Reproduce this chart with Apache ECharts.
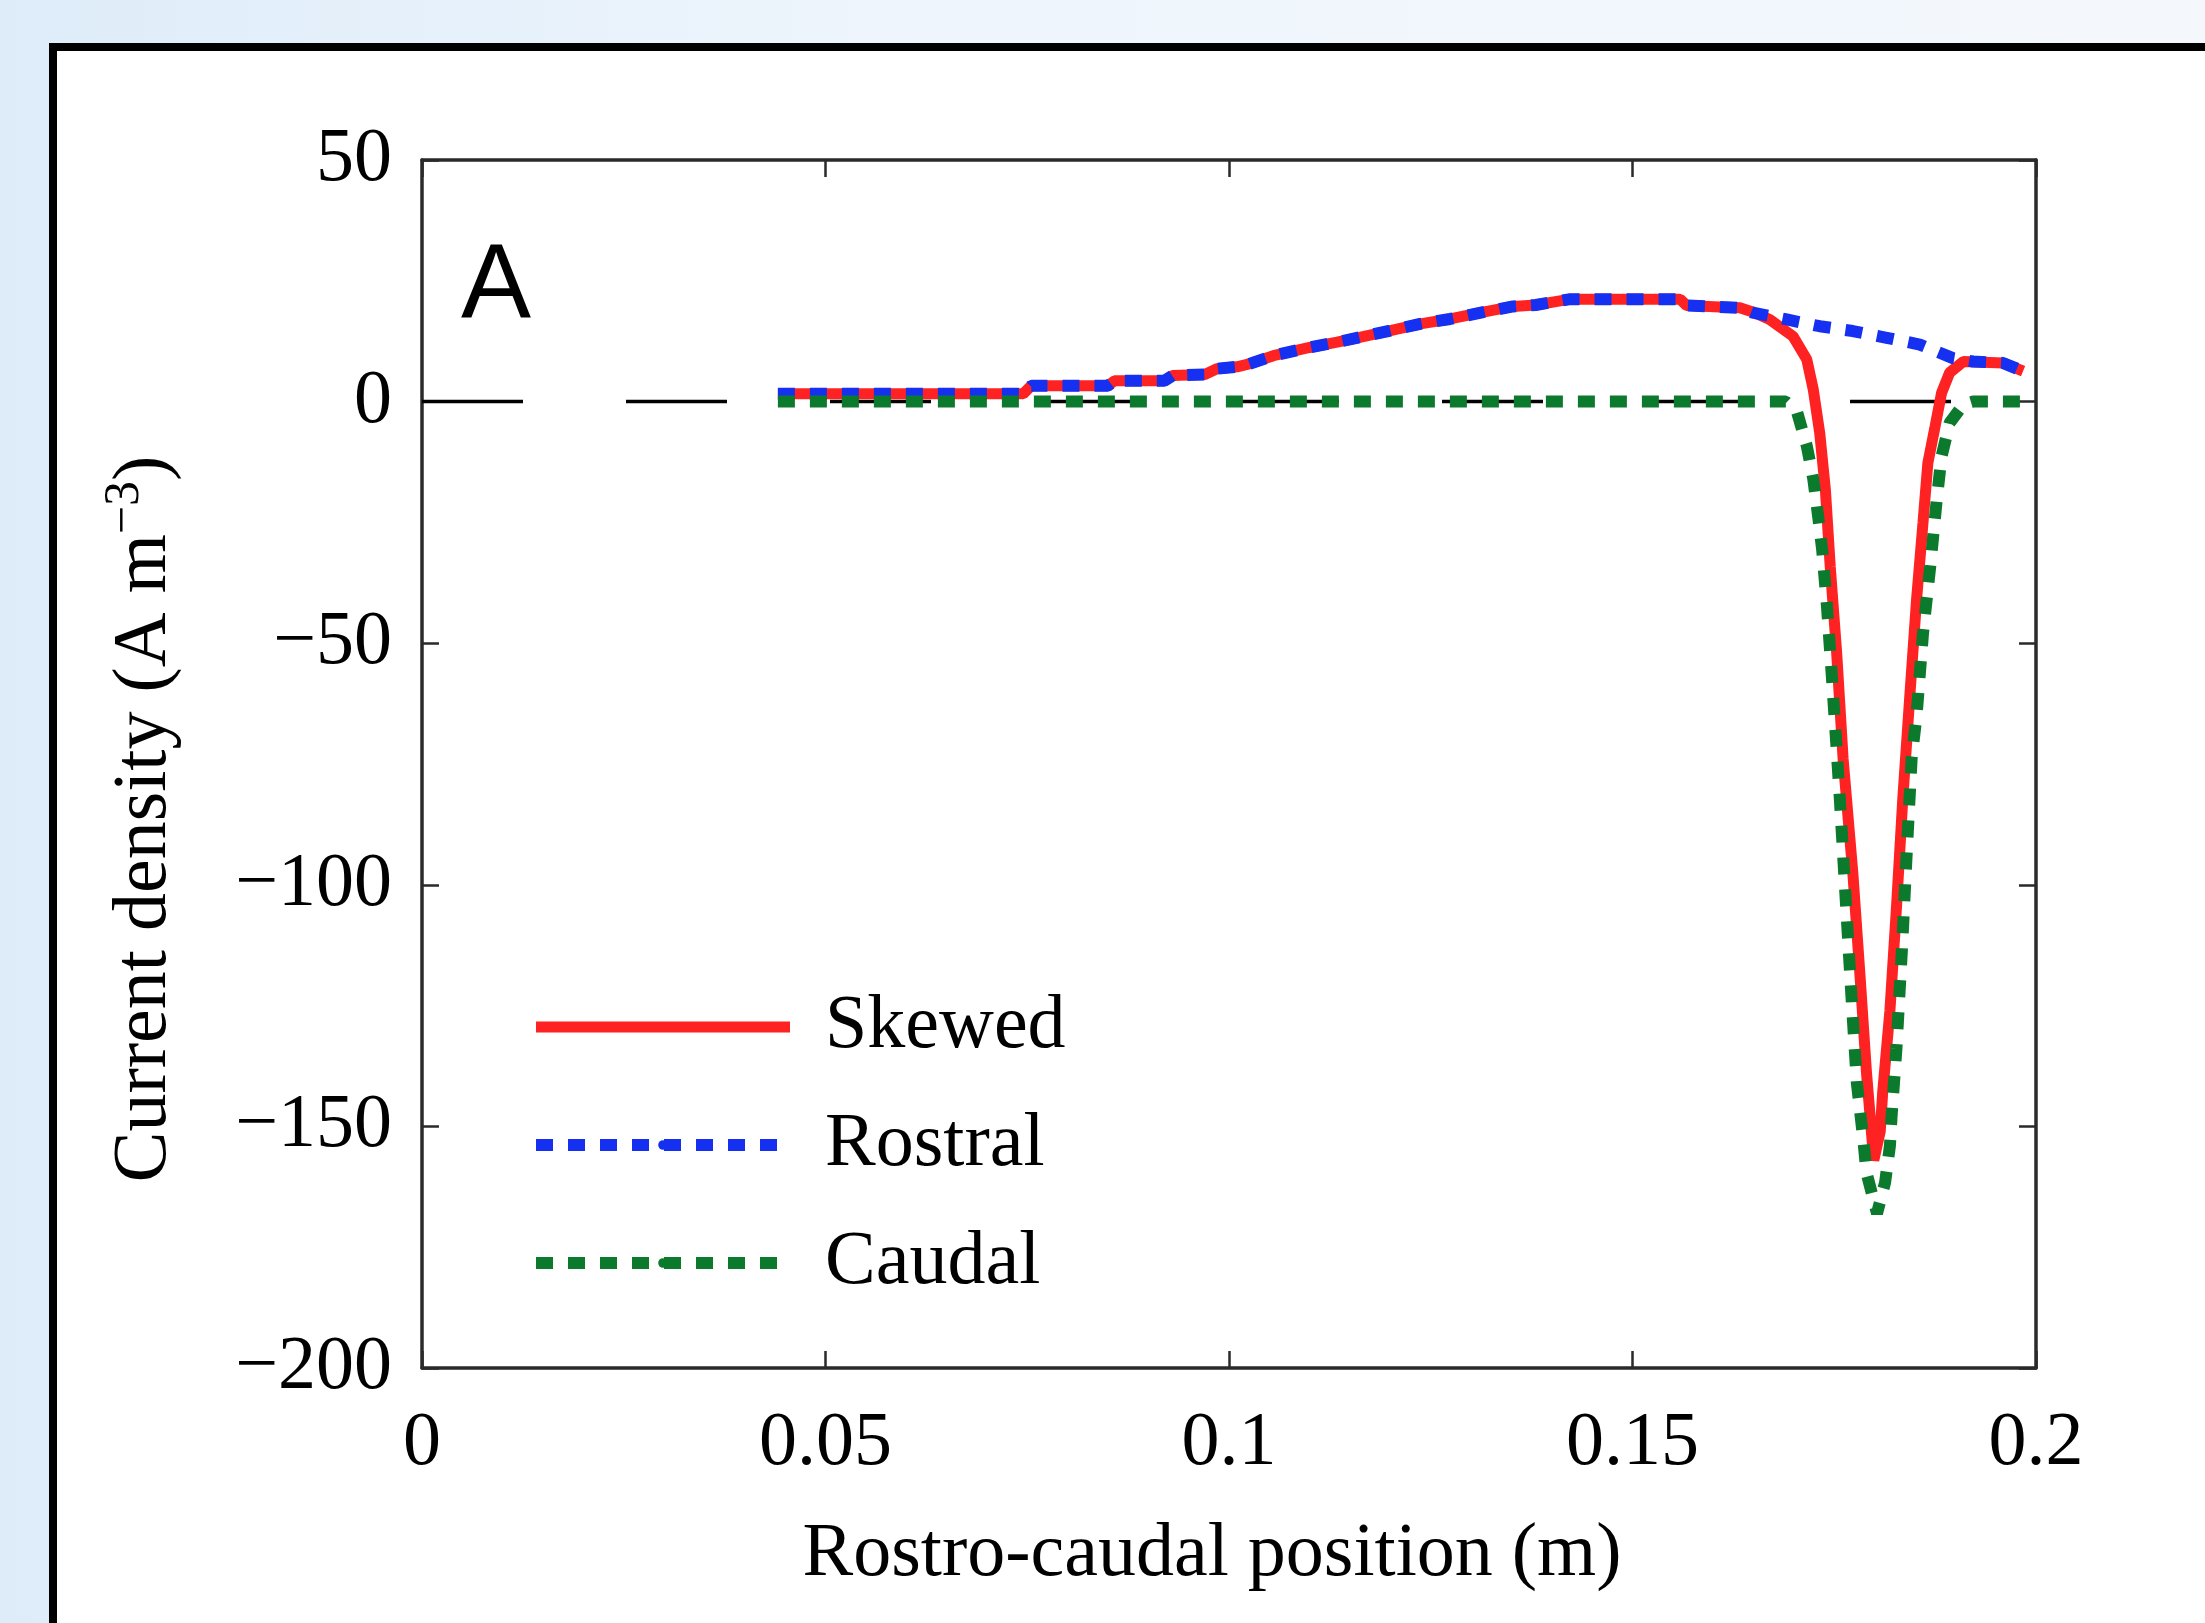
<!DOCTYPE html>
<html>
<head>
<meta charset="utf-8">
<script src="https://cdn.jsdelivr.net/npm/echarts@6/dist/echarts.min.js"></script>
<style>
  html, body { margin: 0; padding: 0; }
  #main {
    width: 2205px;
    height: 1623px;
    background: linear-gradient(90deg, #deecf9 0%, #eef5fc 40%, #f4f8fd 100%);
  }
</style>
</head>
<body>
<div id="main"></div>
<script>
// tick labels
const xTicks = ["0", "0.05", "0.1", "0.15", "0.2"];
const yTicks = ["\u2212200", "\u2212150", "\u2212100", "\u221250", "0", "50"];

// Skewed (red)
const skewedX = [0.0441, 0.060, 0.0745, 0.0755, 0.085, 0.0858, 0.092, 0.093, 0.097, 0.0985, 0.101, 0.1025,
  0.1055, 0.110, 0.1134, 0.1162, 0.120, 0.1237, 0.1274, 0.1315, 0.1352, 0.138, 0.1423, 0.150, 0.1559,
  0.1567, 0.1608, 0.1633, 0.1650, 0.1670, 0.1699, 0.1716, 0.1724, 0.1732, 0.1739, 0.1745, 0.1753,
  0.1761, 0.1773, 0.1782, 0.1790, 0.1799, 0.1807, 0.1810, 0.1819, 0.1827, 0.1835, 0.1844, 0.1852,
  0.1860, 0.1866, 0.1875, 0.1883, 0.1893, 0.1910, 0.1959, 0.1984];
const skewedY = [1.6, 1.6, 1.6, 3.3, 3.3, 4.3, 4.3, 5.4, 5.6, 6.8, 7.2, 7.8,
  9.5, 11.2, 12.3, 13.3, 14.7, 16.1, 17.1, 18.5, 19.7, 20.0, 21.2, 21.2, 21.2,
  19.9, 19.6, 19.4, 18.5, 17.0, 13.5, 8.7, 2.5, -6.5, -18.2, -34.1, -52,
  -74, -97.5, -119, -139, -157, -151, -143, -126, -105, -82, -60, -41,
  -25, -12.7, -5.1, 1.8, 6.0, 8.3, 8.0, 6.3];

// Rostral (blue)
const rostralX = [0.0441, 0.060, 0.0745, 0.0755, 0.085, 0.0858, 0.092, 0.093, 0.097, 0.0985, 0.101, 0.1025,
  0.1055, 0.110, 0.1134, 0.1162, 0.120, 0.1237, 0.1274, 0.1315, 0.1352, 0.138, 0.1423, 0.150, 0.1559,
  0.1567, 0.1608, 0.1633, 0.1649, 0.1691, 0.1732, 0.1773, 0.1815, 0.1856, 0.1897, 0.1922, 0.1959, 0.1984];
const rostralY = [1.6, 1.6, 1.6, 3.3, 3.3, 4.3, 4.3, 5.4, 5.6, 6.8, 7.2, 7.8,
  9.5, 11.2, 12.3, 13.3, 14.7, 16.1, 17.1, 18.5, 19.7, 20.0, 21.2, 21.2, 21.2,
  19.9, 19.6, 19.4, 18.4, 17.0, 15.6, 14.6, 13.2, 11.8, 9.0, 8.3, 8.0, 6.3];

// Caudal (green)
const caudalX = [0.0441, 0.100, 0.1690, 0.1704, 0.1716, 0.1724, 0.1730, 0.1735, 0.1741, 0.1747, 0.1753,
  0.1757, 0.1763, 0.1772, 0.1778, 0.1786, 0.1790, 0.1803, 0.1813, 0.1819, 0.1821, 0.1827, 0.1834,
  0.1840, 0.1846, 0.1852, 0.1860, 0.1869, 0.1877, 0.1883, 0.1893, 0.1910, 0.1922, 0.1985];
const caudalY = [0, 0, 0, -2.2, -9.2, -16, -23.7, -30.6, -42.4, -56.8, -72,
  -82.4, -99.6, -125, -141, -152.7, -159.6, -168, -161.6, -154, -148, -134, -113,
  -92.7, -73.5, -65, -47.9, -34, -20.3, -11.3, -4.4, -0.6, 0, 0];

// zero reference line
const zeroX = [0, 0.2];
const zeroY = [0, 0];

const pairs = (xs, ys) => xs.map((x, i) => [x, ys[i]]);

const serif = "Liberation Serif";
const frameColor = "#2a2a2a";

const chart = echarts.init(document.getElementById("main"), null, { renderer: "canvas" });

const option = {
  backgroundColor: "transparent",
  animation: false,
  graphic: [
    {
      type: "rect",
      z: -10,
      shape: { x: 53, y: 47, width: 2400, height: 1800 },
      style: { fill: "#ffffff", stroke: "#000000", lineWidth: 8 },
    },
    {
      type: "text",
      left: 461,
      top: 236,
      style: { text: "A", font: "105px 'Liberation Sans'", fill: "#000" },
    },
  ],
  grid: { left: 422, top: 160, width: 1614, height: 1208, containLabel: false },
  legend: {
    left: 525,
    top: 982,
    orient: "vertical",
    itemWidth: 254,
    itemHeight: 12,
    itemGap: 38,
    lineStyle: { width: "inherit" },
    textStyle: {
      fontFamily: serif,
      fontSize: 76,
      lineHeight: 80,
      color: "#000",
      padding: [0, 0, 0, 30],
    },
    data: ["Skewed", "Rostral", "Caudal"],
  },
  xAxis: [
    {
      type: "value",
      min: 0,
      max: 0.2,
      interval: 0.05,
      name: "Rostro-caudal position (m)",
      nameLocation: "middle",
      nameGap: 149,
      nameTextStyle: { fontFamily: serif, fontSize: 76, color: "#000", padding: [0, 34, 0, 0] },
      axisLine: { onZero: false, lineStyle: { color: frameColor, width: 3.5 } },
      axisTick: { inside: true, length: 17, lineStyle: { color: frameColor, width: 2.5 } },
      axisLabel: {
        fontFamily: serif,
        fontSize: 76,
        color: "#000",
        margin: 38,
        formatter: (v, i) => xTicks[i],
      },
      splitLine: { show: false },
    },
    {
      type: "value",
      position: "top",
      min: 0,
      max: 0.2,
      interval: 0.05,
      axisLine: { onZero: false, lineStyle: { color: frameColor, width: 3.5 } },
      axisTick: { inside: true, length: 17, lineStyle: { color: frameColor, width: 2.5 } },
      axisLabel: { show: false },
      splitLine: { show: false },
    },
  ],
  yAxis: [
    {
      type: "value",
      min: -200,
      max: 50,
      interval: 50,
      name: "{a|Current density (A m}{s|\u22123}{a|)}",
      nameLocation: "middle",
      nameGap: 232,
      nameTextStyle: {
        padding: [0, 110, 0, 0],
        rich: {
          a: { fontFamily: serif, fontSize: 76, lineHeight: 90, color: "#000" },
          s: { fontFamily: serif, fontSize: 50, lineHeight: 50, verticalAlign: "top", color: "#000" },
        },
      },
      axisLine: { onZero: false, lineStyle: { color: frameColor, width: 3.5 } },
      axisTick: { inside: true, length: 17, lineStyle: { color: frameColor, width: 2.5 } },
      axisLabel: {
        fontFamily: serif,
        fontSize: 76,
        color: "#000",
        margin: 30,
        formatter: (v, i) => yTicks[i],
      },
      splitLine: { show: false },
    },
    {
      type: "value",
      position: "right",
      min: -200,
      max: 50,
      interval: 50,
      axisLine: { onZero: false, lineStyle: { color: frameColor, width: 3.5 } },
      axisTick: { inside: true, length: 17, lineStyle: { color: frameColor, width: 2.5 } },
      axisLabel: { show: false },
      splitLine: { show: false },
    },
  ],
  series: [
    {
      name: "zero",
      type: "line",
      symbol: "none",
      z: 1,
      data: pairs(zeroX, zeroY),
      lineStyle: { color: "#000", width: 3.5, type: [101, 103] },
    },
    {
      name: "Skewed",
      type: "line",
      symbol: "none",
      z: 2,
      data: pairs(skewedX, skewedY),
      itemStyle: { color: "#ff2222" },
      lineStyle: { color: "#ff2222", width: 11 },
    },
    {
      name: "Rostral",
      type: "line",
      symbol: "none",
      z: 3,
      data: pairs(rostralX, rostralY),
      itemStyle: { color: "#1530f0" },
      lineStyle: { color: "#1530f0", width: 12, type: [17, 15] },
    },
    {
      name: "Caudal",
      type: "line",
      symbol: "none",
      z: 4,
      data: pairs(caudalX, caudalY),
      itemStyle: { color: "#0b7a2c" },
      lineStyle: { color: "#0b7a2c", width: 12, type: [17, 15] },
    },
  ],
};

chart.setOption(option);
</script>
</body>
</html>
